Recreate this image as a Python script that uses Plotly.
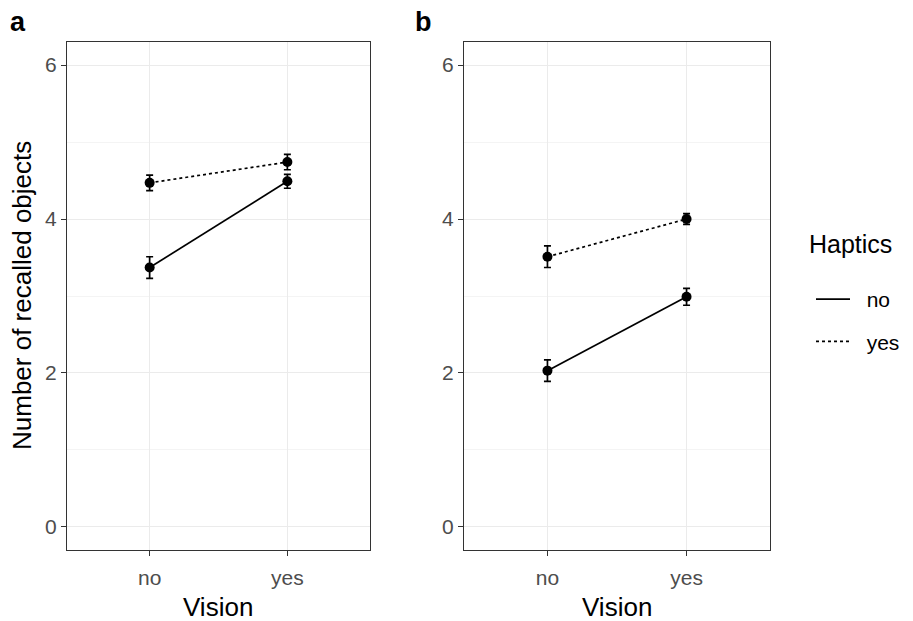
import plotly.graph_objects as go

vision = ["no", "yes"]
haptics = ["no", "yes"]

# panel a
a_no_mean = [3.37, 4.49]
a_no_err = [0.14, 0.09]
a_yes_mean = [4.47, 4.74]
a_yes_err = [0.10, 0.10]
# panel b
b_no_mean = [2.03, 2.99]
b_no_err = [0.14, 0.11]
b_yes_mean = [3.51, 4.00]
b_yes_err = [0.14, 0.07]

y_ticks = [0, 2, 4, 6]

W, H = 913, 621
FONT = "Liberation Sans, Arial, sans-serif"
DASH = {"no": "solid", "yes": "dot"}

fig = go.Figure()

panels = [
    ("x", "y", a_no_mean, a_no_err, a_yes_mean, a_yes_err),
    ("x2", "y2", b_no_mean, b_no_err, b_yes_mean, b_yes_err),
]
for xa, ya, nm, ne, ym, ye in panels:
    for name, m, e in [("no", nm, ne), ("yes", ym, ye)]:
        fig.add_trace(go.Scatter(
            x=vision, y=m, xaxis=xa, yaxis=ya,
            mode="lines+markers", name=name, showlegend=False,
            line=dict(color="black", width=1.7, dash=DASH[name]),
            marker=dict(color="black", size=10),
            error_y=dict(type="data", array=e, visible=True,
                         color="black", thickness=1.7, width=3.5),
        ))

# legend-only traces (line keys, as in the original)
for name in haptics:
    fig.add_trace(go.Scatter(
        x=[None], y=[None], xaxis="x2", yaxis="y2", mode="lines",
        name="\u00a0\u00a0" + name,
        legendgroup=name, line=dict(color="black", width=1.7, dash=DASH[name]),
    ))

def px_x(p):
    return p / W

def px_y(p):
    return 1 - p / H

ydom = [px_y(550), px_y(42)]
axis_common = dict(
    showline=True, mirror=True, linecolor="#333333", linewidth=1.4,
    ticks="outside", ticklen=5, tickcolor="#333333", tickwidth=1.3,
    tickfont=dict(family=FONT, size=21, color="#4d4d4d"),
    showgrid=True, gridcolor="#ebebeb", gridwidth=1.3, zeroline=False,
)
xcommon = dict(axis_common, type="category", categoryorder="array",
               categoryarray=vision, range=[-0.6, 1.6], ticklabelstandoff=4)
ycommon = dict(axis_common, range=[-0.3, 6.3], tickvals=y_ticks,
               minor=dict(dtick=1, tick0=1, showgrid=True,
                          gridcolor="#f4f4f4", gridwidth=1, ticks=""))

fig.update_layout(
    width=W, height=H,
    margin=dict(l=0, r=0, t=0, b=0),
    plot_bgcolor="white", paper_bgcolor="white",
    xaxis=dict(xcommon, domain=[px_x(67), px_x(370)], anchor="y"),
    yaxis=dict(ycommon, domain=ydom, anchor="x"),
    xaxis2=dict(xcommon, domain=[px_x(464), px_x(770)], anchor="y2"),
    yaxis2=dict(ycommon, domain=ydom, anchor="x2"),
    legend=dict(
        x=px_x(811), y=px_y(279), xanchor="left", yanchor="top",
        font=dict(family=FONT, size=21, color="black"),
        tracegroupgap=12, itemwidth=34, traceorder="grouped",
        bgcolor="rgba(0,0,0,0)",
    ),
    showlegend=True,
)

ann = [
    dict(text="<b>a</b>", x=px_x(8), y=px_y(22), xanchor="left", yanchor="middle", size=27),
    dict(text="<b>b</b>", x=px_x(413), y=px_y(22), xanchor="left", yanchor="middle", size=27),
    dict(text="Vision", x=px_x(218), y=px_y(607), xanchor="center", yanchor="middle", size=26),
    dict(text="Vision", x=px_x(617), y=px_y(607), xanchor="center", yanchor="middle", size=26),
    dict(text="Haptics", x=px_x(807), y=px_y(244), xanchor="left", yanchor="middle", size=25),
]
for a in ann:
    fig.add_annotation(text=a["text"], x=a["x"], y=a["y"], xref="paper", yref="paper",
                       xanchor=a["xanchor"], yanchor=a["yanchor"], showarrow=False,
                       font=dict(family=FONT, size=a["size"], color="black"))
fig.add_annotation(text="Number of recalled objects", x=px_x(22), y=px_y(296),
                   xref="paper", yref="paper", textangle=-90, showarrow=False,
                   xanchor="center", yanchor="middle",
                   font=dict(family=FONT, size=26, color="black"))

fig.write_html("out.html", post_script="document.body.style.margin='0';",
               config={"displayModeBar": False})
